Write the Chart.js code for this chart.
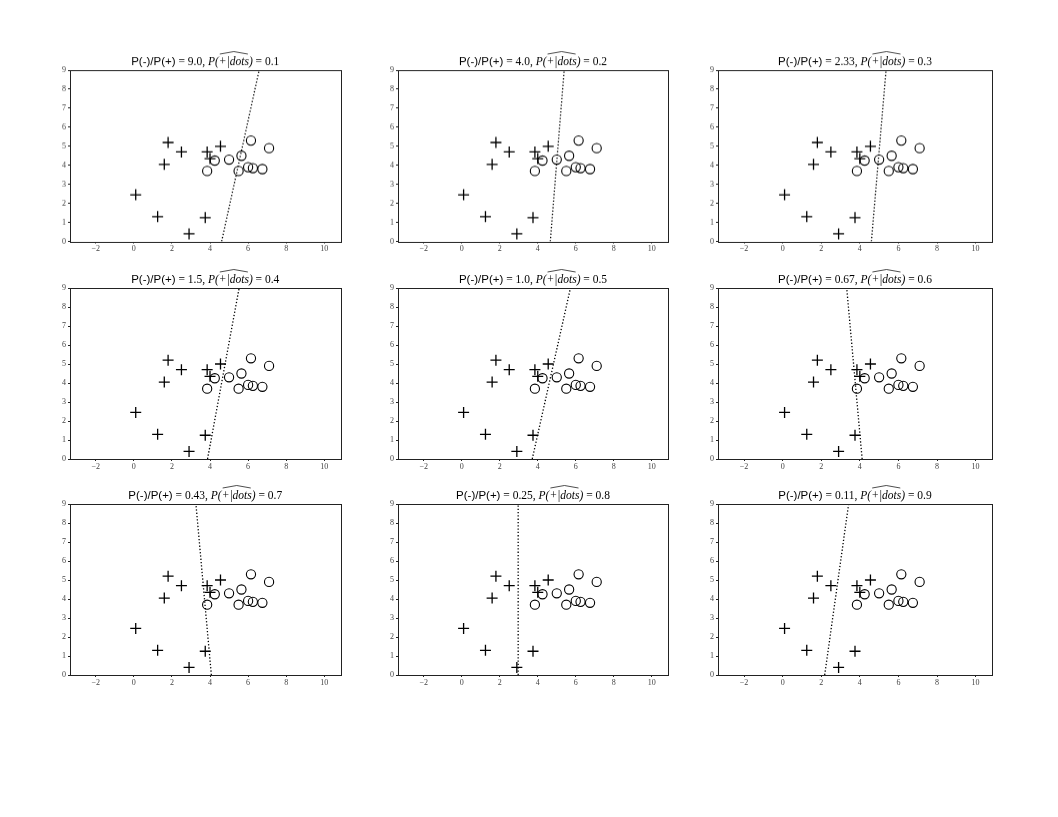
<!DOCTYPE html>
<html>
<head>
<meta charset="utf-8">
<script src="https://cdn.jsdelivr.net/npm/chart.js@4.4.1/dist/chart.umd.min.js"></script>
<style>
  html, body { margin: 0; padding: 0; background: #fff; }
  body { width: 1058px; height: 817px; position: relative; overflow: hidden; }
  .panel { position: absolute; }
</style>
</head>
<body>
<script>
// shared sample points (same in every panel)
const plusX = [1.8, 2.5, 1.6, 3.85, 4.0, 4.55, 0.1, 1.25, 3.75, 2.9];
const plusY = [5.2, 4.7, 4.05, 4.7, 4.35, 5.0, 2.45, 1.3, 1.25, 0.4];
const circleX = [3.85, 4.25, 5.0, 5.65, 5.5, 6.0, 6.25, 6.75, 6.15, 7.1];
const circleY = [3.7, 4.25, 4.3, 4.5, 3.7, 3.9, 3.85, 3.8, 5.3, 4.9];

// one entry per panel
const ratioLabels = ['9.0', '4.0', '2.33', '1.5', '1.0', '0.67', '0.43', '0.25', '0.11'];
const probLabels = ['0.1', '0.2', '0.3', '0.4', '0.5', '0.6', '0.7', '0.8', '0.9'];
const boundaryAtY0 = [4.61, 4.66, 4.6, 3.87, 3.71, 4.12, 4.07, 2.97, 2.18];
const boundaryAtY9 = [6.58, 5.39, 5.36, 5.53, 5.72, 3.32, 3.26, 2.97, 3.42];

const xTicks = [-2, 0, 2, 4, 6, 8, 10];
const yTicks = [0, 1, 2, 3, 4, 5, 6, 7, 8, 9];

// plot area boxes
const colLeft = [69.5, 398, 718];
const colRight = [340, 668, 992];
const rowTop = [70, 288, 504];
const rowBottom = [240.5, 459, 675];

const Y_AXIS_W = 30, X_AXIS_H = 20, TOP_PAD = 22, RIGHT_PAD = 4;

const framePlugin = {
  id: 'frame',
  afterDraw(chart) {
    const a = chart.chartArea, ctx = chart.ctx;
    ctx.save();
    ctx.strokeStyle = '#222';
    ctx.lineWidth = 1;
    ctx.strokeRect(Math.round(a.left) + 0.5, Math.round(a.top) + 0.5,
      Math.round(a.right - a.left), Math.round(a.bottom - a.top));
    ctx.restore();
  }
};

const titlePlugin = {
  id: 'mathTitle',
  afterDraw(chart, args, opts) {
    const ctx = chart.ctx, a = chart.chartArea;
    const sans = '11.5px "Liberation Sans", Arial, sans-serif';
    const serif = '11.5px "Liberation Serif", "DejaVu Serif", serif';
    const ital = 'italic 11.5px "Liberation Serif", "DejaVu Serif", serif';
    const parts = [
      { t: 'P(-)/P(+)', f: sans },
      { t: ' = ' + opts.ratio + ', ', f: serif },
      { t: 'P(', f: ital },
      { t: '+|dots', f: ital, hat: true },
      { t: ')', f: ital },
      { t: ' = ' + opts.prob, f: serif }
    ];
    ctx.save();
    let total = 0;
    parts.forEach(p => { ctx.font = p.f; p.w = ctx.measureText(p.t).width; total += p.w; });
    let x = (a.left + a.right) / 2 - total / 2;
    const base = a.top - 5;
    ctx.fillStyle = '#000';
    ctx.textBaseline = 'alphabetic';
    parts.forEach(p => {
      ctx.font = p.f;
      ctx.fillText(p.t, x, base);
      if (p.hat) {
        ctx.strokeStyle = '#000';
        ctx.lineWidth = 0.7;
        ctx.beginPath();
        ctx.moveTo(x + 1, base - 11);
        ctx.lineTo(x + p.w / 2, base - 13.5);
        ctx.lineTo(x + p.w - 1, base - 11);
        ctx.stroke();
      }
      x += p.w;
    });
    ctx.restore();
  }
};

function makePanel(i) {
  const c = i % 3, r = Math.floor(i / 3);
  const pw = colRight[c] - colLeft[c], ph = rowBottom[r] - rowTop[r];
  const div = document.createElement('div');
  div.className = 'panel';
  div.style.left = (colLeft[c] - Y_AXIS_W) + 'px';
  div.style.top = (rowTop[r] - TOP_PAD) + 'px';
  div.style.width = (pw + Y_AXIS_W + RIGHT_PAD) + 'px';
  div.style.height = (ph + TOP_PAD + X_AXIS_H) + 'px';
  const canvas = document.createElement('canvas');
  div.appendChild(canvas);
  document.body.appendChild(div);

  const tickFont = { family: '"Liberation Serif", "DejaVu Serif", serif', size: 8 };

  new Chart(canvas.getContext('2d'), {
    type: 'scatter',
    data: {
      datasets: [
        {
          data: plusX.map((x, k) => ({ x: x, y: plusY[k] })),
          pointStyle: 'cross',
          pointRadius: 5.5,
          borderColor: '#000',
          borderWidth: 1.3
        },
        {
          data: circleX.map((x, k) => ({ x: x, y: circleY[k] })),
          pointStyle: 'circle',
          pointRadius: 4.6,
          borderColor: '#000',
          backgroundColor: 'rgba(0,0,0,0)',
          borderWidth: 1.1
        },
        {
          data: [{ x: boundaryAtY0[i], y: 0 }, { x: boundaryAtY9[i], y: 9 }],
          showLine: true,
          pointRadius: 0,
          borderColor: '#000',
          borderWidth: 1.3,
          borderDash: [1.3, 2]
        }
      ]
    },
    options: {
      responsive: true,
      maintainAspectRatio: false,
      animation: false,
      events: [],
      layout: { autoPadding: false, padding: { top: TOP_PAD, right: RIGHT_PAD, left: 0, bottom: 0 } },
      plugins: {
        legend: { display: false },
        tooltip: { enabled: false },
        mathTitle: { ratio: ratioLabels[i], prob: probLabels[i] }
      },
      scales: {
        x: {
          type: 'linear',
          min: -3.35,
          max: 10.85,
          afterBuildTicks: s => { s.ticks = xTicks.map(v => ({ value: v })); },
          afterFit: s => { s.height = X_AXIS_H; },
          grid: { drawOnChartArea: false, drawTicks: true, tickLength: 2, color: '#222' },
          border: { display: false },
          ticks: { font: tickFont, color: '#444', padding: 1, maxRotation: 0,
            callback: v => (v < 0 ? '\u2212' + Math.abs(v) : String(v)) }
        },
        y: {
          type: 'linear',
          min: 0,
          max: 9,
          afterBuildTicks: s => { s.ticks = yTicks.map(v => ({ value: v })); },
          afterFit: s => { s.width = Y_AXIS_W; },
          grid: { drawOnChartArea: false, drawTicks: true, tickLength: 2, color: '#222' },
          border: { display: false },
          ticks: { font: tickFont, color: '#444', padding: 2 }
        }
      }
    },
    plugins: [framePlugin, titlePlugin]
  });
}

for (let i = 0; i < 9; i++) makePanel(i);
</script>
</body>
</html>
